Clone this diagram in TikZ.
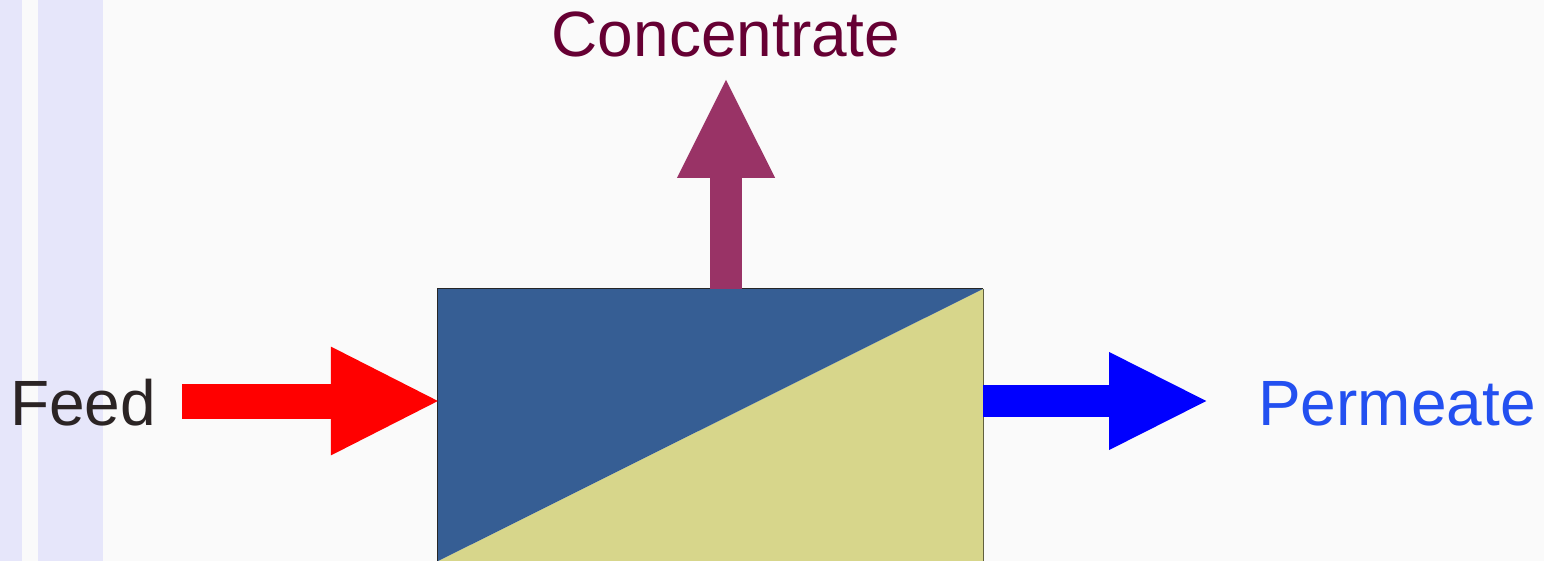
\documentclass[tikz,border=0pt]{standalone}
\usepackage{fontspec}
\setmainfont{Liberation Sans}
\usepackage{tikz}
\usetikzlibrary{arrows.meta, positioning}

\definecolor{pagebg}{HTML}{FAFAFA}
\definecolor{stripe}{HTML}{E6E6FA}
\definecolor{retentate}{HTML}{365E94}
\definecolor{permside}{HTML}{D7D68B}
\definecolor{feedred}{HTML}{FF0000}
\definecolor{permblue}{HTML}{0000FF}
\definecolor{concpurple}{HTML}{993366}
\definecolor{conctext}{HTML}{660033}
\definecolor{permtext}{HTML}{2350F0}
\definecolor{feedtext}{HTML}{2B2424}

\tikzset{
  label/.style={font=\fontsize{64}{70}\selectfont, inner sep=0pt, anchor=base},
  modbox/.style={minimum width=545pt, minimum height=272pt, inner sep=0pt},
  flow/.style={line width=#1, shorten >=-3pt},
}

\begin{document}
\begin{tikzpicture}[x=1pt, y=-1pt]
		% Background and side stripes
		\fill[pagebg] (0,0) rectangle (1544,561);
		\useasboundingbox (0,0) rectangle (1544,561);
		\fill[stripe] (0,0) rectangle (22,561);
		\fill[stripe] (38,0) rectangle (103,561);
		% Membrane module
		\node[modbox] (module) at (710.5,425) {};
		\fill[permside] (module.south west) -- (module.north east) -- (module.south east) -- cycle;
		\fill[retentate] (module.south west) -- (module.north west) -- (module.north east) -- cycle;
		\draw[black!85, line width=1pt] (module.south west) -- (module.north west) -- (module.north east);
		\draw[black!55!permside, line width=1pt] (module.north east) -- (module.south east);
		% Labels
		\node[label, text=feedtext] (feed) at (83,425) {Feed};
		\node[label, text=conctext] (conc) at (726,57) {Concentrate};
		\node[label, text=permtext] (perm) at (1397,425) {Permeate};
		% Stream arrows
		\coordinate (feedin) at (182,401);
		\coordinate (concbase) at (726,289);
		\coordinate (conctip) at (726,80);
		\coordinate (permtip) at (1206,401);
		\draw[flow=35pt, feedred, -{Triangle[length=110pt, width=100pt]}] (feedin) -- (feedin -| module.west);
		\draw[flow=32pt, concpurple, -{Triangle[length=101pt, width=90pt]}] (concbase) -- (conctip);
		\draw[flow=32pt, permblue, -{Triangle[length=100pt, width=90pt]}] (permtip -| module.east) -- (permtip);

	\end{tikzpicture}
\end{document}
